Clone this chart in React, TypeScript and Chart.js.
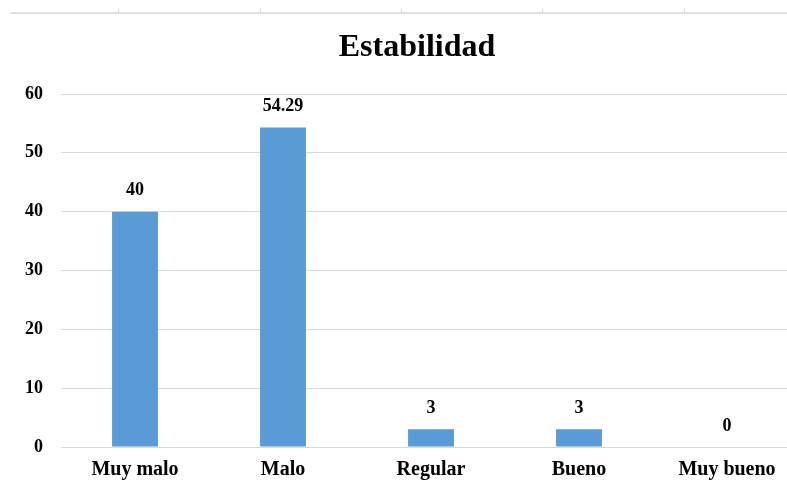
import React, { useEffect, useRef } from "react";
import { Chart, registerables } from "chart.js";

Chart.register(...registerables);

const TITLE = "Estabilidad";
const CATEGORIES = ["Muy malo", "Malo", "Regular", "Bueno", "Muy bueno"];
const VALUES = [40, 54.29, 3, 3, 0];
const VALUE_LABELS = ["40", "54.29", "3", "3", "0"];
const Y_MIN = 0;
const Y_MAX = 60;
const Y_STEP = 10;

const FONT = "'Liberation Serif', 'Times New Roman', serif";

const valueLabelPlugin = {
  id: "valueLabels",
  afterDatasetsDraw(chart: any) {
    const ctx = chart.ctx;
    const meta = chart.getDatasetMeta(0);
    ctx.save();
    ctx.font = `bold 18px ${FONT}`;
    ctx.fillStyle = "#000000";
    ctx.textAlign = "center";
    ctx.textBaseline = "middle";
    meta.data.forEach((bar: any, i: number) => {
      ctx.fillText(VALUE_LABELS[i], bar.x, bar.y - 21);
    });
    ctx.restore();
  },
};

const titlePlugin = {
  id: "offsetTitle",
  afterDraw(chart: any) {
    const ctx = chart.ctx;
    const area = chart.chartArea;
    ctx.save();
    ctx.font = `bold 32px ${FONT}`;
    ctx.fillStyle = "#000000";
    ctx.textAlign = "center";
    ctx.textBaseline = "middle";
    ctx.fillText(TITLE, (area.left + area.right) / 2 - 14, area.top - 46);
    ctx.restore();
  },
};

export default function App() {
  const ref = useRef<HTMLCanvasElement | null>(null);

  useEffect(() => {
    if (!ref.current) return;
    const chart = new Chart(ref.current, {
      type: "bar",
      data: {
        labels: CATEGORIES,
        datasets: [
          {
            data: VALUES,
            backgroundColor: "#5B9BD5",
            borderWidth: 0,
            categoryPercentage: 1,
            barPercentage: 0.31,
          },
        ],
      },
      plugins: [valueLabelPlugin, titlePlugin],
      options: {
        animation: false,
        responsive: true,
        maintainAspectRatio: false,
        devicePixelRatio: 1,
        layout: { padding: { top: 94, left: 0, right: 0, bottom: 0 } },
        plugins: {
          legend: { display: false },
          tooltip: { enabled: false },
          title: { display: false },
        },
        scales: {
          x: {
            grid: { display: false, drawTicks: false },
            border: { display: false },
            ticks: {
              color: "#000000",
              font: { family: FONT, size: 20, weight: "bold", lineHeight: 1.2 },
              padding: 11,
              maxRotation: 0,
              autoSkip: false,
            },
            afterFit(scale: any) {
              scale.height = 47;
            },
          },
          y: {
            min: Y_MIN,
            max: Y_MAX,
            grid: { color: "#d9d9d9", lineWidth: 1, drawTicks: false },
            border: { display: false },
            ticks: {
              stepSize: Y_STEP,
              color: "#000000",
              font: { family: FONT, size: 18, weight: "bold" },
              padding: 18,
            },
            afterFit(scale: any) {
              scale.width = 61;
            },
          },
        },
      },
    });
    return () => chart.destroy();
  }, []);

  const tickXs = [118, 260, 401, 542, 684];

  return (
    <div
      style={{
        position: "fixed",
        left: 0,
        top: 0,
        width: 787,
        height: 494,
        overflow: "hidden",
        background: "#ffffff",
      }}
    >
      <div
        style={{
          position: "absolute",
          left: 10,
          right: 0,
          top: 12,
          height: 2,
          background: "#e0e0e0",
        }}
      />
      {tickXs.map((x) => (
        <div
          key={x}
          style={{
            position: "absolute",
            left: x,
            top: 9,
            width: 1,
            height: 4,
            background: "#d8d8d8",
          }}
        />
      ))}
      <div style={{ position: "absolute", left: 0, top: 0, width: 801, height: 494 }}>
        <canvas ref={ref} />
      </div>
    </div>
  );
}
